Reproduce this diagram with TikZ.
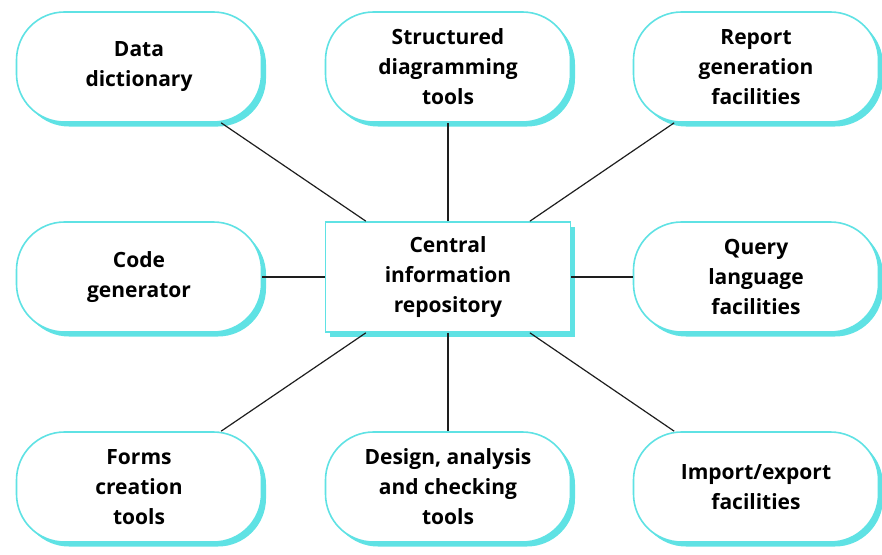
\documentclass[tikz,border=0pt]{standalone}
\usepackage{fontspec}
\setmainfont{Open Sans}
\usetikzlibrary{shadows}
\definecolor{cyanb}{RGB}{95,226,228}
\definecolor{linec}{RGB}{30,30,30}
\tikzset{
  tool/.style={draw=cyanb, line width=1.6pt, fill=white, rounded corners=48pt,
    minimum width=245pt, minimum height=110pt, align=center, inner sep=0pt,
    font=\bfseries\fontsize{21}{30}\selectfont, text=black,
    general shadow={shadow xshift=4.5pt, shadow yshift=-4.5pt, fill=cyanb}},
  hub/.style={tool, rounded corners=0pt},
  link/.style={draw=linec, line width=1.2pt}
}
\begin{document}
\begin{tikzpicture}[x=1pt,y=-1pt]
\useasboundingbox (0,0) rectangle (882,554);
\node[hub]  (c)  at (448,277) {Central\\information\\repository};
\node[tool] (dd) at (139,67)  {Data\\dictionary};
\node[tool] (sd) at (448,67)  {Structured\\diagramming\\tools};
\node[tool] (rg) at (756,67)  {Report\\generation\\facilities};
\node[tool] (cg) at (139,277) {Code\\generator};
\node[tool] (ql) at (756,277) {Query\\language\\facilities};
\node[tool] (fc) at (139,487) {Forms\\creation\\tools};
\node[tool] (da) at (448,487) {Design, analysis\\and checking\\tools};
\node[tool] (ie) at (756,487) {Import/export\\facilities};
\foreach \n in {dd,sd,rg,cg,ql,fc,da,ie} { \draw[link] (c) -- (\n); }
\end{tikzpicture}
\end{document}
